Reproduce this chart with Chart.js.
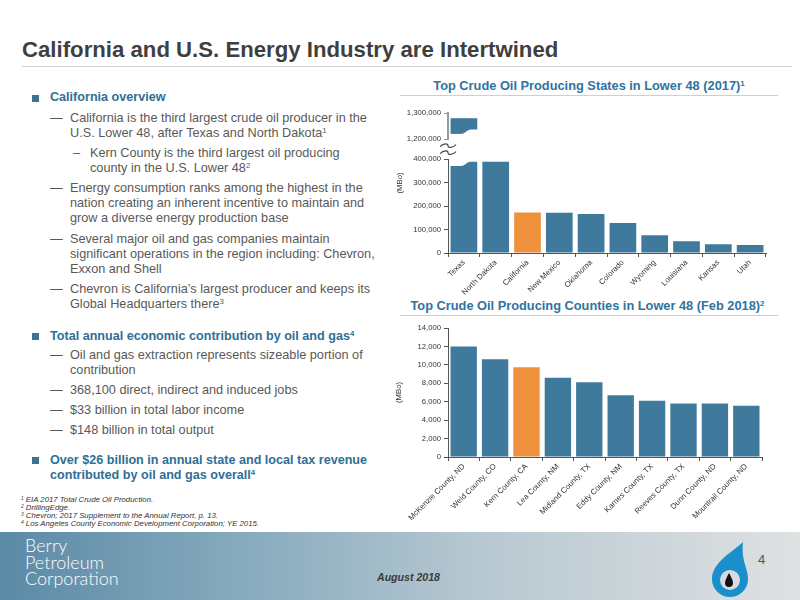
<!DOCTYPE html>
<html><head><meta charset="utf-8">
<script src="https://cdn.jsdelivr.net/npm/chart.js@4.4.1/dist/chart.umd.min.js"></script>
<style>
html,body{margin:0;padding:0;background:#fff;}
#slide{position:relative;width:800px;height:600px;overflow:hidden;font-family:"Liberation Sans",Arial,sans-serif;}
.abs{position:absolute;white-space:nowrap;}
.sup{font-size:62%;position:relative;top:-0.5em;line-height:0;}
#title{left:22px;top:37px;font-size:22.2px;font-weight:bold;color:#3f3f3f;line-height:26px;}
.rule{position:absolute;height:1px;background:#cfcfcf;}
.txt{font-size:12.7px;line-height:15px;color:#595959;}
.head{font-size:12.6px;line-height:15px;color:#2f6f95;font-weight:bold;}
.sq{position:absolute;width:7px;height:7px;background:#3c7393;}
.ctitle{position:absolute;font-size:12.8px;line-height:15px;font-weight:bold;color:#2f73a0;text-align:center;white-space:nowrap;}
.fn{font-size:7.8px;line-height:8px;font-style:italic;color:#333;}
#footer{position:absolute;left:0;top:532px;width:800px;height:68px;background:linear-gradient(to right,#5b8aa6 0%,#8eafc1 35%,#b7c8d1 60%,#dfe1e2 100%);}
#brand{left:25px;top:537px;font-family:Lato,"Open Sans",sans-serif;font-weight:300;font-size:18px;line-height:16.5px;color:#fff;}
#date{left:377px;top:570px;font-size:10.6px;line-height:14px;font-weight:bold;font-style:italic;color:#3a3a3a;}
#page{left:758px;top:552px;font-size:13px;line-height:16px;color:#555;}
.cv{position:absolute;}
</style></head>
<body><div id="slide">
<div id="title" class="abs">California and U.S. Energy Industry are Intertwined</div>
<div class="rule" style="left:22px;top:66px;width:770px;"></div>

<div class="sq" style="left:32px;top:94.5px"></div>
<div class="abs head" style="left:50px;top:90px">California overview</div>
<div class="abs txt" style="left:50px;top:110.8px">—</div>
<div class="abs txt" style="left:70px;top:110.8px">California is the third largest crude oil producer in the<br>U.S. Lower 48, after Texas and North Dakota<span class="sup">1</span></div>
<div class="abs txt" style="left:73px;top:145.8px">–</div>
<div class="abs txt" style="left:90px;top:145.8px">Kern County is the third largest oil producing<br>county in the U.S. Lower 48<span class="sup">2</span></div>
<div class="abs txt" style="left:50px;top:180.8px">—</div>
<div class="abs txt" style="left:70px;top:180.8px">Energy consumption ranks among the highest in the<br>nation creating an inherent incentive to maintain and<br>grow a diverse energy production base</div>
<div class="abs txt" style="left:50px;top:231.8px">—</div>
<div class="abs txt" style="left:70px;top:231.8px">Several major oil and gas companies maintain<br>significant operations in the region including: Chevron,<br>Exxon and Shell</div>
<div class="abs txt" style="left:50px;top:281.8px">—</div>
<div class="abs txt" style="left:70px;top:281.8px">Chevron is California’s largest producer and keeps its<br>Global Headquarters there<span class="sup">3</span></div>

<div class="sq" style="left:32px;top:332.5px"></div>
<div class="abs head" style="left:50px;top:328.5px">Total annual economic contribution by oil and gas<span class="sup">4</span></div>
<div class="abs txt" style="left:50px;top:347.5px">—</div>
<div class="abs txt" style="left:70px;top:347.5px">Oil and gas extraction represents sizeable portion of<br>contribution</div>
<div class="abs txt" style="left:50px;top:382.5px">—</div>
<div class="abs txt" style="left:70px;top:382.5px">368,100 direct, indirect and induced jobs</div>
<div class="abs txt" style="left:50px;top:402.5px">—</div>
<div class="abs txt" style="left:70px;top:402.5px">$33 billion in total labor income</div>
<div class="abs txt" style="left:50px;top:422.5px">—</div>
<div class="abs txt" style="left:70px;top:422.5px">$148 billion in total output</div>

<div class="sq" style="left:32px;top:457px"></div>
<div class="abs head" style="left:50px;top:453.2px">Over $26 billion in annual state and local tax revenue<br>contributed by oil and gas overall<span class="sup">4</span></div>

<div class="abs fn" style="left:21px;top:496px"><span class="sup">1</span> EIA 2017 Total Crude Oil Production.<br><span class="sup">2</span> DrillingEdge.<br><span class="sup">3</span> Chevron; 2017 Supplement to the Annual Report, p. 13.<br><span class="sup">4</span> Los Angeles County Economic Development Corporation; YE 2015.</div>

<div class="ctitle" style="left:400px;top:77.5px;width:378px">Top Crude Oil Producing States in Lower 48 (2017)<span class="sup">1</span></div>
<div class="rule" style="left:400px;top:95px;width:378px;"></div>
<div class="ctitle" style="left:397px;top:297.5px;width:381px">Top Crude Oil Producing Counties in Lower 48 (Feb 2018)<span class="sup">2</span></div>
<div class="rule" style="left:400px;top:315px;width:378px;"></div>

<canvas id="c1" class="cv" width="390" height="195" style="left:390px;top:100px"></canvas>
<canvas id="c2" class="cv" width="390" height="210" style="left:390px;top:318px"></canvas>

<div id="footer"></div>
<div id="brand" class="abs">Berry<br>Petroleum<br>Corporation</div>
<div id="date" class="abs">August 2018</div>
<svg class="abs" style="left:705px;top:538px" width="50" height="62" viewBox="705 538 50 62">
  <path fill="#1b8fcb" fill-rule="evenodd" d="M743,542 C734,551 712,562 712,579 A18,18 0 0 0 748,579 C748,568 741,561 743,542 Z M740,580 A10,10 0 1 0 720,580 A10,10 0 1 0 740,580 Z"/>
  <path fill="#111" d="M729,573 C727,577 725,580 725,583 A4,4 0 0 0 733,583 C733,580 731,577 729,573 Z"/>
</svg>
<div id="page" class="abs">4</div>
</div>

<script>
// ---- data ----
const stateLabels = ['Texas','North Dakota','California','New Mexico','Oklahoma','Colorado','Wyoming','Louisiana','Kansas','Utah'];
const stateValues = [1280000, 389000, 173000, 172000, 166000, 128000, 76000, 50000, 37000, 34000];
const stateLowerTicks = [0, 100000, 200000, 300000, 400000];
const stateUpperTicks = [1200000, 1300000];
const breakLow = 390000;   // where a bar crossing the axis break is cut (lower part)
const breakHigh = 1220000; // where the upper part of a broken bar starts
const highlightState = 'California';

const countyLabels = ['McKenzie County, ND','Weld County, CO','Kern County, CA','Lea County, NM','Midland County, TX','Eddy County, NM','Karnes County, TX','Reeves County, TX','Dunn County, ND','Mountrail County, ND'];
const countyValues = [12000, 10600, 9750, 8600, 8100, 6700, 6100, 5800, 5800, 5550];
const countyTicks = [0, 2000, 4000, 6000, 8000, 10000, 12000, 14000];
const highlightCounty = 'Kern County, CA';

const yTitle = '(MBo)';

// ---- styles ----
const BLUE = '#3f7a9c', ORANGE = '#f0913e', AXIS = '#555', LABEL = '#333';
const FAMILY = "'Liberation Sans', Arial, sans-serif";
Chart.defaults.font.family = FAMILY;
const fmt = v => Number(v).toLocaleString('en-US');

const lowerData = stateValues.map(v => Math.min(v, breakLow));
const upperData = stateValues.map(v => v > breakLow ? [breakHigh, v] : null);
const stateColors = stateLabels.map(l => l === highlightState ? ORANGE : BLUE);
const countyColors = countyLabels.map(l => l === highlightCounty ? ORANGE : BLUE);

const xAxis = (h) => ({
  grid: {display: true, drawOnChartArea: false, tickLength: 4, color: AXIS, offset: true},
  border: {color: AXIS, width: 1},
  ticks: {minRotation: 45, maxRotation: 45, autoSkip: false, font: {size: 7.8}, color: LABEL, padding: 1},
  afterFit(s) { s.height = h; }
});
const yTicks = (list) => ({
  font: {size: 7.7}, color: LABEL, padding: 3,
  callback: v => fmt(v)
});

const breakPlugin = {
  id: 'axisBreak',
  afterDatasetsDraw(chart) {
    const ctx = chart.ctx;
    const m0 = chart.getDatasetMeta(0), m1 = chart.getDatasetMeta(1);
    stateValues.forEach((v, i) => {
      if (v <= breakLow) return;
      const a = m0.data[i], b = m1.data[i];
      const w = a.width, L = a.x - w / 2, R = a.x + w / 2, amp = 4.5;
      ctx.save();
      ctx.fillStyle = '#fff';
      ctx.beginPath();
      ctx.moveTo(L - 1, a.y - 1); ctx.lineTo(R + 1, a.y - 1); ctx.lineTo(R + 1, a.y);
      ctx.lineTo(L + 0.78 * w, a.y);
      ctx.bezierCurveTo(L + 0.58 * w, a.y, L + 0.58 * w, a.y + amp, L + 0.38 * w, a.y + amp);
      ctx.lineTo(L - 1, a.y + amp); ctx.closePath(); ctx.fill();
      const by = b.base;
      ctx.beginPath();
      ctx.moveTo(R + 1, by + 1); ctx.lineTo(L - 1, by + 1); ctx.lineTo(L - 1, by);
      ctx.lineTo(L + 0.38 * w, by);
      ctx.bezierCurveTo(L + 0.58 * w, by, L + 0.58 * w, by - amp, L + 0.78 * w, by - amp);
      ctx.lineTo(R + 1, by - amp); ctx.closePath(); ctx.fill();
      ctx.restore();
    });
  },
  afterDraw(chart) {
    const ctx = chart.ctx, lo = chart.scales.y, hi = chart.scales.y2;
    const mid = (hi.bottom + lo.top) / 2, x0 = lo.right - 8;
    ctx.save();
    ctx.strokeStyle = '#444'; ctx.lineWidth = 1.1;
    [-3.5, 3.5].forEach(d => {
      const y = mid + d;
      ctx.beginPath();
      ctx.moveTo(x0, y + 1);
      ctx.bezierCurveTo(x0 + 4, y - 3, x0 + 8, y - 2, x0 + 8, y);
      ctx.bezierCurveTo(x0 + 8, y + 2, x0 + 12, y + 3, x0 + 16, y - 1);
      ctx.stroke();
    });
    const ca = chart.chartArea;
    ctx.fillStyle = LABEL; ctx.font = '7.7px ' + FAMILY;
    ctx.translate(ca.left - 48, (ca.top + ca.bottom) / 2);
    ctx.rotate(-Math.PI / 2);
    ctx.textAlign = 'center'; ctx.textBaseline = 'middle';
    ctx.fillText(yTitle, 0, 0);
    ctx.restore();
  }
};

new Chart(document.getElementById('c1'), {
  type: 'bar',
  data: {
    labels: stateLabels,
    datasets: [
      {data: lowerData, yAxisID: 'y', backgroundColor: stateColors, grouped: false, barPercentage: 0.84, categoryPercentage: 1},
      {data: upperData, yAxisID: 'y2', backgroundColor: stateColors, grouped: false, barPercentage: 0.84, categoryPercentage: 1}
    ]
  },
  options: {
    responsive: false, animation: false, events: [],
    layout: {padding: {top: 13, right: 14, left: 0, bottom: 0}},
    plugins: {legend: {display: false}, tooltip: {enabled: false}},
    scales: {
      x: xAxis(42),
      y2: {
        position: 'left', stack: 'st', stackWeight: 26, weight: 2,
        min: stateUpperTicks[0], max: stateUpperTicks[stateUpperTicks.length - 1],
        afterBuildTicks(s) { s.ticks = stateUpperTicks.map(v => ({value: v})); },
        ticks: yTicks(stateUpperTicks),
        grid: {drawOnChartArea: false, tickLength: 4, color: '#999'},
        border: {color: '#999', width: 2},
        afterFit(s) { s.width = 58; }
      },
      yGap: {
        position: 'left', stack: 'st', stackWeight: 20, weight: 1, display: false, min: 0, max: 1
      },
      y: {
        position: 'left', stack: 'st', stackWeight: 93.4, weight: 0,
        min: stateLowerTicks[0], max: stateLowerTicks[stateLowerTicks.length - 1],
        afterBuildTicks(s) { s.ticks = stateLowerTicks.map(v => ({value: v})); },
        ticks: yTicks(stateLowerTicks),
        grid: {drawOnChartArea: false, tickLength: 4, color: AXIS},
        border: {color: AXIS, width: 1},
        afterFit(s) { s.width = 58; }
      }
    }
  },
  plugins: [breakPlugin]
});

new Chart(document.getElementById('c2'), {
  type: 'bar',
  data: {
    labels: countyLabels,
    datasets: [{data: countyValues, backgroundColor: countyColors, barPercentage: 0.84, categoryPercentage: 1}]
  },
  options: {
    responsive: false, animation: false, events: [],
    layout: {padding: {top: 10, right: 18, left: 0, bottom: 0}},
    plugins: {legend: {display: false}, tooltip: {enabled: false}},
    scales: {
      x: xAxis(71),
      y: {
        min: countyTicks[0], max: countyTicks[countyTicks.length - 1],
        afterBuildTicks(s) { s.ticks = countyTicks.map(v => ({value: v})); },
        ticks: yTicks(countyTicks),
        grid: {drawOnChartArea: false, tickLength: 4, color: AXIS},
        border: {color: AXIS, width: 1},
        title: {display: true, text: yTitle, font: {size: 7.7}, color: LABEL, padding: {top: 4, bottom: 4}},
        afterFit(s) { s.width = 58; }
      }
    }
  }
});
</script>
</body></html>
